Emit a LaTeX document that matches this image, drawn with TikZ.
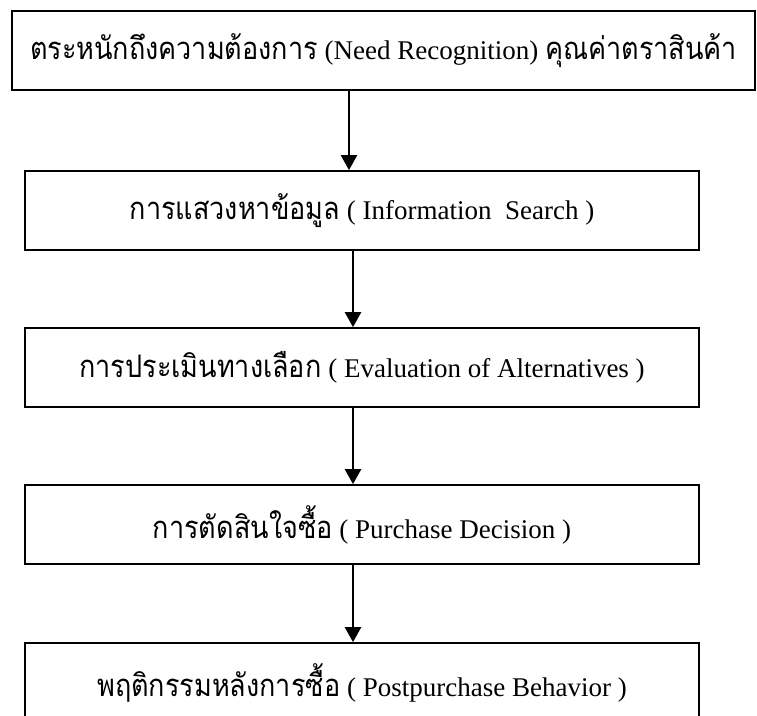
\documentclass[tikz,border=0pt]{standalone}
\usepackage{fontspec}
\setmainfont{Liberation Serif}
\newfontfamily\thaifont[Script=Thai,Scale=1.15,FakeStretch=0.87]{Loma}
\usetikzlibrary{arrows.meta}
\tikzset{
  box/.style={draw=black, line width=1.7pt, minimum height=79pt, inner sep=0pt,
    anchor=center, font=\fontsize{27}{32}\selectfont},
  wide/.style={box, minimum width=743pt},
  narrow/.style={box, minimum width=674pt},
  flow/.style={line width=2.4pt, -{Triangle[width=16pt,length=15pt]}}
}
\begin{document}
\begin{tikzpicture}[x=1pt,y=-1pt]
\useasboundingbox (0,0) rectangle (757,715);
\clip (0,0) rectangle (757,715);
\node[wide]   (b1) at (383.5,50.5)  {{\thaifont ตระหนักถึงความต้องการ} (Need Recognition) {\thaifont คุณค่าตราสินค้า}};
\node[narrow] (b2) at (362,210.5) {{\thaifont การแสวงหาข้อมูล} ( Information\ \ Search )};
\node[narrow] (b3) at (362,367.5) {{\thaifont การประเมินทางเลือก} ( Evaluation of Alternatives )};
\node[narrow] (b4) at (362,524.5) {{\thaifont การตัดสินใจซื้อ} ( Purchase Decision )};
\node[narrow] (b5) at (362,682.5) {{\thaifont พฤติกรรมหลังการซื้อ} ( Postpurchase Behavior )};
\coordinate (xa) at (349,0);
\coordinate (xb) at (353,0);
\draw[flow] (b1.south -| xa) -- (b2.north -| xa);
\draw[flow] (b2.south -| xb) -- (b3.north -| xb);
\draw[flow] (b3.south -| xb) -- (b4.north -| xb);
\draw[flow] (b4.south -| xb) -- (b5.north -| xb);
\end{tikzpicture}
\end{document}
